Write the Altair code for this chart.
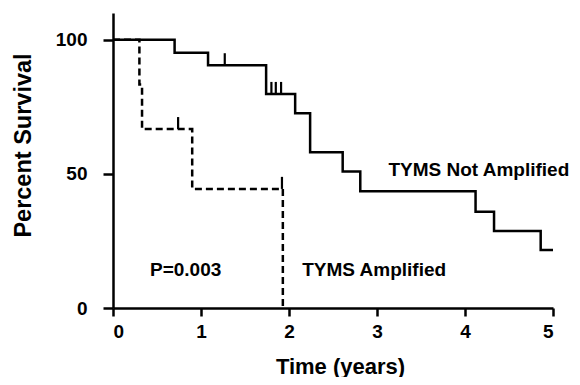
import altair as alt
import pandas as pd

# Kaplan-Meier steps
not_amp_time = [0, 0.70, 1.08, 1.74, 2.07, 2.24, 2.61, 2.81, 4.12, 4.33, 4.86, 5.0]
not_amp_surv = [100, 95.2, 90.5, 79.8, 72.6, 58.1, 50.9, 43.5, 35.9, 28.7, 21.6, 21.6]
amp_time = [0, 0.30, 0.33, 0.90, 1.93]
amp_surv = [100, 83.3, 66.7, 44.4, 0]

# censor marks
cens_not_amp_time = [1.27, 1.80, 1.85, 1.91]
cens_not_amp_surv = [90.5, 79.8, 79.8, 79.8]
cens_amp_time = [0.74, 1.92]
cens_amp_surv = [66.7, 44.4]
cens_height = 4.5

# annotations
label_text = ["TYMS Not Amplified", "TYMS Amplified", "P=0.003"]
label_x = [3.13, 2.15, 0.42]
label_y = [51.5, 14.2, 14.2]

x_ticks = [0, 1, 2, 3, 4, 5]
y_ticks = [0, 50, 100]

FONT = "Liberation Sans"

df_na = pd.DataFrame({"t": not_amp_time, "s": not_amp_surv})
df_a = pd.DataFrame({"t": amp_time, "s": amp_surv})
df_cens = pd.DataFrame({
    "t": cens_not_amp_time + cens_amp_time,
    "s": cens_not_amp_surv + cens_amp_surv,
})
df_cens["s2"] = df_cens["s"] + cens_height
df_lab = pd.DataFrame({"x": label_x, "y": label_y, "text": label_text})

xscale = alt.Scale(domain=[0, 5], nice=False, zero=False)
yscale = alt.Scale(domain=[0, 110], nice=False)

xaxis = alt.Axis(values=x_ticks, format="d", tickSize=8, labelPadding=6,
                 title="Time (years)", titleX=227, titleY=58, titleFontSize=22,
                 titleBaseline="middle", titleAlign="center")
yaxis = alt.Axis(values=y_ticks, format="d", tickSize=10, labelPadding=16,
                 title="Percent Survival", titleX=-90, titleY=132, titleFontSize=23.5,
                 titleBaseline="middle", titleAlign="center", titleAngle=-90)

base_x = alt.X("t:Q", scale=xscale, axis=xaxis)
base_y = alt.Y("s:Q", scale=yscale, axis=yaxis)

solid = alt.Chart(df_na).mark_line(
    interpolate="step-after", color="black", strokeWidth=2.5
).encode(x=base_x, y=base_y)

dashed = alt.Chart(df_a).mark_line(
    interpolate="step-after", color="black", strokeWidth=2.5, strokeDash=[7, 4]
).encode(x="t:Q", y="s:Q")

cens = alt.Chart(df_cens).mark_rule(color="black", strokeWidth=2.2).encode(
    x="t:Q", y="s:Q", y2="s2:Q"
)

labels = alt.Chart(df_lab).mark_text(
    align="left", baseline="middle", font=FONT, fontWeight="bold",
    fontSize=19, color="black"
).encode(x="x:Q", y="y:Q", text="text:N")

chart = alt.layer(solid, dashed, cens, labels).properties(
    width=440, height=295,
    autosize=alt.AutoSizeParams(type="none"),
    padding={"left": 105, "top": 5, "right": 19, "bottom": 69},
    background="white",
).configure_view(stroke=None).configure_axis(
    grid=False,
    domainColor="black", domainWidth=2.5,
    tickColor="black", tickWidth=2.5,
    labelFont=FONT, labelFontWeight="bold", labelFontSize=19, labelColor="black",
    titleFont=FONT, titleFontWeight="bold", titleColor="black",
)

chart.save("out.html", embed_options={"renderer": "svg", "actions": False})
